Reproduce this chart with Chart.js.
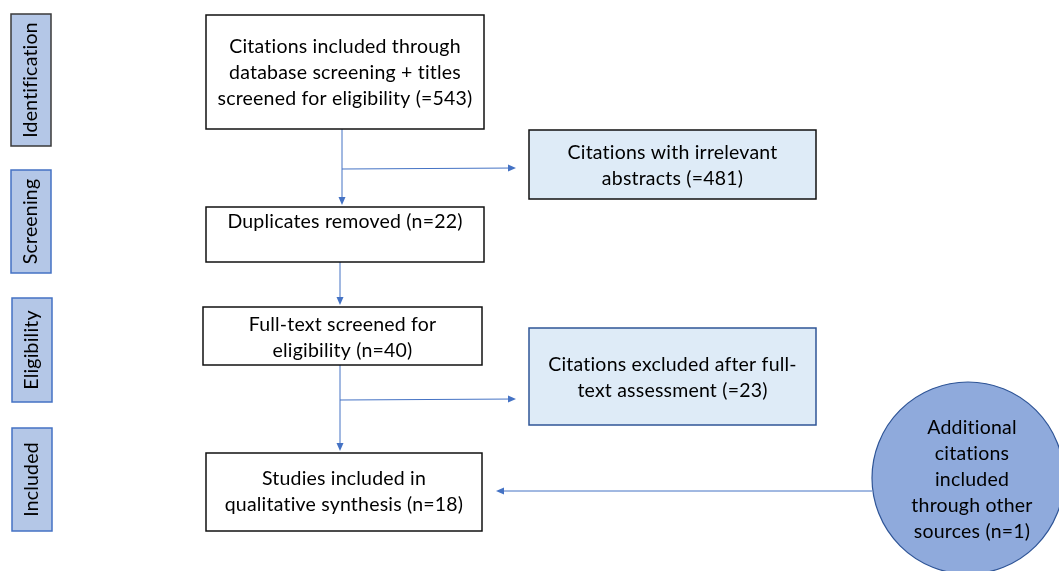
<!DOCTYPE html>
<html>
<head>
<meta charset="utf-8">
<script src="https://cdn.jsdelivr.net/npm/chart.js@4"></script>
<style>
  html, body { margin: 0; background: #fff; }
  #wrap { width: 1059px; height: 571px; }
</style>
</head>
<body>
<div id="wrap"><canvas id="flow"></canvas></div>
<script>
// stages of the review
let stages = ["Identification", "Screening", "Eligibility", "Included"];

// main column: text lines + counts
let stepLines = [
    ["Citations included through", "database screening + titles", "screened for eligibility"],
    ["Duplicates removed"],
    ["Full-text screened for", "eligibility"],
    ["Studies included in", "qualitative synthesis"],
];
let stepPrefix = ["=", "n=", "n=", "n="];
let stepCounts = [543, 22, 40, 18];

// excluded side boxes
let excludedLines = [
    ["Citations with irrelevant", "abstracts"],
    ["Citations excluded after full-", "text assessment"],
];
let excludedPrefix = ["=", "="];
let excludedCounts = [481, 23];

// extra source
let extraLines = ["Additional", "citations", "included", "through other", "sources"];
let extraCount = 1;

// layout (diagram units = pixels of the original)
const stageBoxes = [
    { x: 11, y: 14, w: 40, h: 132, border: "#3a3a3a" },
    { x: 11, y: 170, w: 40, h: 103, border: "#4472c4" },
    { x: 12, y: 298, w: 40, h: 104, border: "#4472c4" },
    { x: 12, y: 428, w: 40, h: 103, border: "#4472c4" },
];
const stepBoxes = [
    { x: 206, y: 15, w: 278, h: 114, firstLine: 47 },
    { x: 206, y: 207, w: 278, h: 55, firstLine: 222 },
    { x: 203, y: 307, w: 279, h: 58, firstLine: 325 },
    { x: 206, y: 453, w: 276, h: 78, firstLine: 479 },
];
const sideBoxes = [
    { x: 529, y: 130, w: 287, h: 69, firstLine: 153, border: "#111111" },
    { x: 529, y: 328, w: 287, h: 97, firstLine: 365, border: "#2f5597" },
];
const circle = { cx: 968, cy: 478, r: 96, firstLine: 428 };
const trunkX = [342, 340, 340];
const branchY = [168, 399];
const branchFrom = [0, 2];
const feedY = 491;
const lineGap = 26;
const arrowColor = "#4472c4";
const font = "19.5px Lato, 'Open Sans', sans-serif";

function withCount(lines, prefix, n) {
    let out = lines.slice();
    out[out.length - 1] = out[out.length - 1] + " (" + prefix + n + ")";
    return out;
}

const flowPlugin = {
    id: "flowDraw",
    afterDatasetsDraw(chart) {
        const ctx = chart.ctx;
        const sx = chart.scales.x;
        const sy = chart.scales.y;
        const px = (v) => sx.getPixelForValue(v);
        const py = (v) => sy.getPixelForValue(v);

        function setFont() {
            ctx.fillStyle = "#000";
            ctx.font = font;
            // small spacing also switches off the Lato "ti"/"fi" ligatures
            ctx.letterSpacing = "0.2px";
            ctx.textAlign = "center";
            ctx.textBaseline = "middle";
        }

        function rect(b, fill, stroke, lw) {
            const x0 = px(b.x), y0 = py(b.y);
            const w = px(b.x + b.w) - x0, h = py(b.y + b.h) - y0;
            ctx.fillStyle = fill;
            ctx.fillRect(x0, y0, w, h);
            ctx.strokeStyle = stroke;
            ctx.lineWidth = lw;
            ctx.strokeRect(x0, y0, w, h);
        }

        function text(lines, cx, firstY) {
            setFont();
            lines.forEach((l, i) => ctx.fillText(l, px(cx), py(firstY + i * lineGap)));
        }

        function arrow(x0, y0, x1, y1) {
            ctx.strokeStyle = arrowColor;
            ctx.fillStyle = arrowColor;
            ctx.lineWidth = 1;
            const a = Math.atan2(py(y1) - py(y0), px(x1) - px(x0));
            ctx.beginPath();
            ctx.moveTo(px(x0), py(y0));
            ctx.lineTo(px(x1) - Math.cos(a) * 6, py(y1) - Math.sin(a) * 6);
            ctx.stroke();
            ctx.save();
            ctx.translate(px(x1), py(y1));
            ctx.rotate(a);
            ctx.beginPath();
            ctx.moveTo(0, 0);
            ctx.lineTo(-8, -3.5);
            ctx.lineTo(-8, 3.5);
            ctx.closePath();
            ctx.fill();
            ctx.restore();
        }

        ctx.save();

        // stage labels
        stages.forEach((s, i) => {
            const b = stageBoxes[i];
            rect(b, "#b4c7e7", b.border, 1.5);
            ctx.save();
            ctx.translate(px(b.x + b.w / 2), py(b.y + b.h / 2));
            ctx.rotate(-Math.PI / 2);
            setFont();
            ctx.fillText(s, 0, 0);
            ctx.restore();
        });

        // connectors
        for (let i = 0; i < stepBoxes.length - 1; i++) {
            const a = stepBoxes[i], b = stepBoxes[i + 1];
            arrow(trunkX[i], a.y + a.h, trunkX[i], b.y - 2);
        }
        branchY.forEach((yb, i) => {
            arrow(trunkX[branchFrom[i]], yb + 1, sideBoxes[i].x - 13, yb);
        });
        arrow(circle.cx - circle.r, feedY, stepBoxes[3].x + stepBoxes[3].w + 14, feedY);

        // main boxes
        stepLines.forEach((lines, i) => {
            const b = stepBoxes[i];
            rect(b, "#ffffff", "#111111", 1.5);
            text(withCount(lines, stepPrefix[i], stepCounts[i]), b.x + b.w / 2, b.firstLine);
        });

        // excluded boxes
        excludedLines.forEach((lines, i) => {
            const b = sideBoxes[i];
            rect(b, "#deebf7", b.border, 1.5);
            text(withCount(lines, excludedPrefix[i], excludedCounts[i]), b.x + b.w / 2, b.firstLine);
        });

        // extra source circle
        ctx.beginPath();
        ctx.arc(px(circle.cx), py(circle.cy), px(circle.cx + circle.r) - px(circle.cx), 0, Math.PI * 2);
        ctx.fillStyle = "#8faadc";
        ctx.fill();
        ctx.strokeStyle = "#2f5597";
        ctx.lineWidth = 1.2;
        ctx.stroke();
        text(withCount(extraLines, "n=", extraCount), circle.cx + 4, circle.firstLine);

        ctx.restore();
    },
};

new Chart(document.getElementById("flow"), {
    type: "scatter",
    data: { datasets: [{ data: [] }] },
    options: {
        responsive: true,
        maintainAspectRatio: false,
        animation: false,
        layout: { padding: 0 },
        plugins: { legend: { display: false }, tooltip: { enabled: false } },
        scales: {
            x: { type: "linear", min: 0, max: 1059, display: false },
            y: { type: "linear", min: 0, max: 571, reverse: true, display: false },
        },
    },
    plugins: [flowPlugin],
});
</script>
</body>
</html>
